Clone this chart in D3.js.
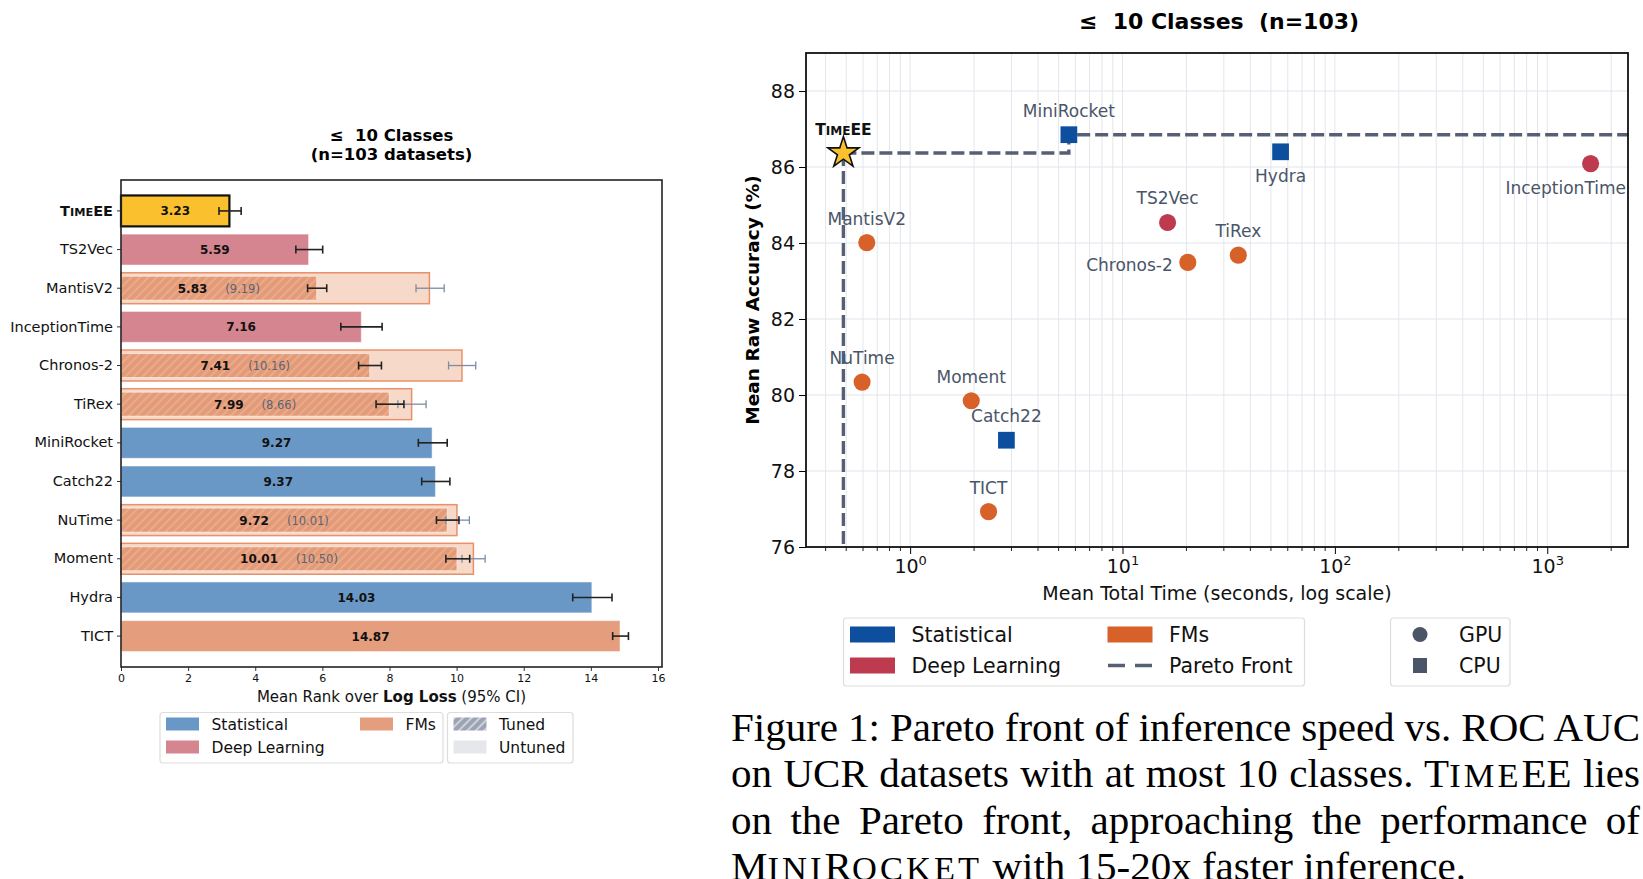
<!DOCTYPE html>
<html>
<head>
<meta charset="utf-8">
<script src="https://cdn.jsdelivr.net/npm/d3@7"></script>
<style>
	body { margin: 0; background: #fff; }
	#wrap { position: relative; width: 1643px; height: 879px; overflow: hidden; }
	#wrap svg { position: absolute; left: 0; top: 0; font-family: "DejaVu Sans", sans-serif; }
	#wrap svg text { white-space: pre; }
	.cap { position: absolute; left: 731px; width: 909px; font-family: "Liberation Serif", serif;
		font-size: 41px; line-height: 46.5px; color: #000; white-space: nowrap; }
	.sc { font-size: 0.84em; letter-spacing: 0.09em; }
</style>
</head>
<body>
<div id="wrap"></div>
<script>

// Left chart: mean rank over log loss
var models = ["TimeEE", "TS2Vec", "MantisV2", "InceptionTime", "Chronos-2", "TiRex", "MiniRocket", "Catch22", "NuTime", "Moment", "Hydra", "TICT"];
var families = ["Ours", "Deep Learning", "FMs", "Deep Learning", "FMs", "FMs", "Statistical", "Statistical", "FMs", "FMs", "Statistical", "FMs"];
var rankTuned = [3.23, 5.59, 5.83, 7.16, 7.41, 7.99, 9.27, 9.37, 9.72, 10.01, 14.03, 14.87];
var rankLow = [2.92, 5.21, 5.56, 6.55, 7.08, 7.60, 8.86, 8.96, 9.40, 9.68, 13.46, 14.65];
var rankHigh = [3.58, 6.01, 6.13, 7.78, 7.76, 8.43, 9.72, 9.80, 10.07, 10.39, 14.63, 15.12];
var rankUntuned = [null, null, 9.19, null, 10.16, 8.66, null, null, 10.01, 10.50, null, null];
var untunedLow = [null, null, 8.79, null, 9.76, 8.25, null, null, 9.68, 10.16, null, null];
var untunedHigh = [null, null, 9.63, null, 10.57, 9.09, null, null, 10.38, 10.85, null, null];
var rankTicks = [0, 2, 4, 6, 8, 10, 12, 14, 16];

// Right chart: accuracy vs time
var scatterModels = ["TimeEE", "MiniRocket", "Hydra", "InceptionTime", "TS2Vec", "TiRex", "Chronos-2", "MantisV2", "NuTime", "Moment", "Catch22", "TICT"];
var scatterGroups = ["Ours", "Statistical", "Statistical", "Deep Learning", "Deep Learning", "FMs", "FMs", "FMs", "FMs", "FMs", "Statistical", "FMs"];
var meanTime = [0.485, 5.59, 55.5, 1600, 16.3, 35.1, 20.3, 0.625, 0.594, 1.94, 2.84, 2.34];
var meanAcc = [86.37, 86.85, 86.40, 86.09, 84.54, 83.68, 83.49, 84.01, 80.34, 79.85, 78.81, 76.93];
var accTicks = [76, 78, 80, 82, 84, 86, 88];
var timeTicks = [1, 10, 100, 1000];

var width = 1643, height = 879;

var barColors = { "Ours": "#FBC02D", "Statistical": "#6A98C6", "Deep Learning": "#D4858F", "FMs": "#E49E7D" };
var dotColors = { "Ours": "#FBC02D", "Statistical": "#0D4F9E", "Deep Learning": "#BD3A4F", "FMs": "#D8612A" };

var svg = d3.select("#wrap").append("svg")
	.attr("width", width)
	.attr("height", height);

// "TimeEE" written in small caps (T + IME small + EE)
function timeeeLabel(sel) {
	sel.text(null);
	sel.append("tspan").text("T");
	sel.append("tspan").attr("font-size", "0.78em").text("IME");
	sel.append("tspan").text("EE");
}

// Hatch patterns
var defs = svg.append("defs");
function hatch(id, bg, fg) {
	var p = defs.append("pattern")
		.attr("id", id)
		.attr("patternUnits", "userSpaceOnUse")
		.attr("width", 6).attr("height", 6)
		.attr("patternTransform", "rotate(45)");
	p.append("rect").attr("width", 6).attr("height", 6).attr("fill", bg);
	p.append("line").attr("x1", 1).attr("y1", 0).attr("x2", 1).attr("y2", 6)
		.attr("stroke", fg).attr("stroke-width", 1.3);
}
hatch("hatchFM", "#E39A77", "#EEB597");
hatch("hatchGray", "#9CA3B4", "#E8EAEF");

// ---------------- Left chart ----------------
var L = { left: 121, right: 662, top: 180, bottom: 667 };

var xL = d3.scaleLinear()
	.domain([0, 16.12])
	.range([L.left, L.right]);

var yL = d3.scaleBand()
	.domain(models)
	.range([L.top, L.bottom])
	.paddingInner(0.2)
	.paddingOuter(0.4);

var left = svg.append("g");

var rows = models.map(function(m, i) {
	return { name: m, fam: families[i], tuned: rankTuned[i], lo: rankLow[i], hi: rankHigh[i],
		untuned: rankUntuned[i], ulo: untunedLow[i], uhi: untunedHigh[i] };
});

// Untuned background bars
left.selectAll(".untuned")
	.data(rows.filter(function(d){ return d.untuned != null; }))
	.enter().append("rect")
	.attr("x", xL(0))
	.attr("y", function(d){ return yL(d.name); })
	.attr("width", function(d){ return xL(d.untuned) - xL(0); })
	.attr("height", yL.bandwidth())
	.attr("fill", "#F6D9C8")
	.attr("stroke", "#E8916A")
	.attr("stroke-width", 1.5);

// Main bars
left.selectAll(".bar")
	.data(rows)
	.enter().append("rect")
	.attr("x", xL(0))
	.attr("y", function(d){ return d.untuned != null ? yL(d.name) + 3.5 : yL(d.name); })
	.attr("width", function(d){ return xL(d.tuned) - xL(0); })
	.attr("height", function(d){ return d.untuned != null ? yL.bandwidth() - 7 : yL.bandwidth(); })
	.attr("fill", function(d){ return d.untuned != null ? "url(#hatchFM)" : barColors[d.fam]; })
	.attr("stroke", function(d){ return d.fam == "Ours" ? "#111" : "#fff"; })
	.attr("stroke-opacity", function(d){ return d.fam == "Ours" ? 1 : 0.5; })
	.attr("stroke-width", function(d){ return d.fam == "Ours" ? 2.2 : 1; });

// Error bars
function errorBars(data, lo, hi, color, w) {
	var g = left.append("g").attr("stroke", color).attr("stroke-width", w);
	data.forEach(function(d) {
		var cy = yL(d.name) + yL.bandwidth() / 2;
		g.append("line").attr("x1", xL(d[lo])).attr("x2", xL(d[hi])).attr("y1", cy).attr("y2", cy);
		g.append("line").attr("x1", xL(d[lo])).attr("x2", xL(d[lo])).attr("y1", cy - 4).attr("y2", cy + 4);
		g.append("line").attr("x1", xL(d[hi])).attr("x2", xL(d[hi])).attr("y1", cy - 4).attr("y2", cy + 4);
	});
}
errorBars(rows.filter(function(d){ return d.untuned != null; }), "ulo", "uhi", "#7D8CA3", 1.3);
errorBars(rows, "lo", "hi", "#222", 1.6);

// Value labels
var vl = left.selectAll(".val")
	.data(rows)
	.enter().append("text")
	.attr("x", function(d){ return xL(d.tuned / 2); })
	.attr("y", function(d){ return yL(d.name) + yL.bandwidth() / 2 + 4.5; })
	.attr("text-anchor", "middle")
	.attr("font-size", "12px");
vl.append("tspan")
	.attr("font-weight", "bold")
	.attr("fill", "#111")
	.text(function(d){ return d.tuned.toFixed(2); });
vl.filter(function(d){ return d.untuned != null; })
	.append("tspan")
	.attr("dx", 18)
	.attr("fill", "#5B6475")
	.attr("font-size", "11.5px")
	.text(function(d){ return "(" + d.untuned.toFixed(2) + ")"; });

// Axes
var axL = left.append("g")
	.attr("transform", "translate(" + L.left + ",0)")
	.call(d3.axisLeft(yL).tickSize(4).tickPadding(4));
axL.select(".domain").remove();
axL.selectAll("line").attr("stroke", "#333");
axL.selectAll("text").attr("font-size", "14.5px").attr("fill", "#111")
	.attr("font-family", "DejaVu Sans");
axL.selectAll("text").filter(function(d){ return d == "TimeEE"; })
	.attr("font-weight", "bold")
	.attr("font-size", "14.5px")
	.call(timeeeLabel);

var axB = left.append("g")
	.attr("transform", "translate(0," + L.bottom + ")")
	.call(d3.axisBottom(xL).tickValues(rankTicks).tickSize(4).tickPadding(3));
axB.select(".domain").remove();
axB.selectAll("line").attr("stroke", "#333");
axB.selectAll("text").attr("font-size", "11px").attr("fill", "#111")
	.attr("font-family", "DejaVu Sans");

left.append("rect")
	.attr("x", L.left).attr("y", L.top)
	.attr("width", L.right - L.left).attr("height", L.bottom - L.top)
	.attr("fill", "none").attr("stroke", "#222").attr("stroke-width", 1.6);

// Title and x label
var lt = left.append("text")
	.attr("text-anchor", "middle")
	.attr("font-weight", "bold")
	.attr("font-size", "16.5px");
lt.append("tspan").attr("x", (L.left + L.right) / 2).attr("y", 141).text("≤  10 Classes");
lt.append("tspan").attr("x", (L.left + L.right) / 2).attr("y", 160).text("(n=103 datasets)");

var lx = left.append("text")
	.attr("x", (L.left + L.right) / 2)
	.attr("y", 702)
	.attr("text-anchor", "middle")
	.attr("font-size", "15px")
	.attr("fill", "#111");
lx.append("tspan").text("Mean Rank over ");
lx.append("tspan").attr("font-weight", "bold").text("Log Loss");
lx.append("tspan").text(" (95% CI)");

// Left legends
function legendBox(g, x, y, w, h) {
	g.append("rect").attr("x", x).attr("y", y).attr("width", w).attr("height", h)
		.attr("rx", 3).attr("fill", "#fff").attr("stroke", "#DDDDDD").attr("stroke-width", 1.2);
}
var lg = left.append("g");
legendBox(lg, 160, 712.5, 283, 50.5);
legendBox(lg, 447.5, 712.5, 125.5, 50.5);
var leftLegend = [
	{ label: "Statistical", fill: barColors["Statistical"], x: 166, y: 724 },
	{ label: "Deep Learning", fill: barColors["Deep Learning"], x: 166, y: 747 },
	{ label: "FMs", fill: barColors["FMs"], x: 360, y: 724 },
	{ label: "Tuned", fill: "url(#hatchGray)", x: 453.5, y: 724 },
	{ label: "Untuned", fill: "#E5E7EB", x: 453.5, y: 747 }
];
leftLegend.forEach(function(d) {
	lg.append("rect").attr("x", d.x).attr("y", d.y - 6.5).attr("width", 33).attr("height", 13).attr("fill", d.fill);
	lg.append("text").attr("x", d.x + 45.5).attr("y", d.y + 5.5).attr("font-size", "15.5px")
		.attr("fill", "#111").text(d.label);
});

// ---------------- Right chart ----------------
var R = { left: 806, right: 1628, top: 53, bottom: 547 };

var xR = d3.scaleLog()
	.domain([d3.min(meanTime) / 1.5, d3.max(meanTime) * 1.5])
	.range([R.left, R.right]);

var yR = d3.scaleLinear()
	.domain([76, 89])
	.range([R.bottom, R.top]);

var right = svg.append("g");

// Grid lines (major + minor on log axis)
var minorTicks = [];
d3.range(-1, 4).forEach(function(e) {
	d3.range(1, 10).forEach(function(m) {
		var v = m * Math.pow(10, e);
		if (v >= xR.domain()[0] && v <= xR.domain()[1]) minorTicks.push(v);
	});
});
right.append("g").selectAll("line")
	.data(minorTicks)
	.enter().append("line")
	.attr("x1", function(d){ return xR(d); }).attr("x2", function(d){ return xR(d); })
	.attr("y1", R.top).attr("y2", R.bottom)
	.attr("stroke", "#E4E6EC").attr("stroke-width", 1);
right.append("g").selectAll("line")
	.data(accTicks)
	.enter().append("line")
	.attr("x1", R.left).attr("x2", R.right)
	.attr("y1", function(d){ return yR(d); }).attr("y2", function(d){ return yR(d); })
	.attr("stroke", "#E4E6EC").attr("stroke-width", 1.2);

var pts = scatterModels.map(function(m, i) {
	return { name: m, group: scatterGroups[i], t: meanTime[i], acc: meanAcc[i] };
});

// Pareto front: faster models that beat every faster one
var front = [];
pts.slice().sort(function(a, b){ return a.t - b.t; }).forEach(function(p) {
	if (front.length == 0 || p.acc > front[front.length - 1].acc) front.push(p);
});
var frontPath = front.map(function(p){ return [p.t, p.acc]; });
frontPath.push([xR.domain()[1], front[front.length - 1].acc]);

var pareto = right.append("g")
	.attr("fill", "none")
	.attr("stroke", "#566074")
	.attr("stroke-width", 3.4)
	.attr("stroke-dasharray", "13,5");
pareto.append("path")
	.attr("d", d3.line().x(function(d){ return xR(d[0]); }).y(function(d){ return yR(d[1]); })
		.curve(d3.curveStepAfter)(frontPath));
pareto.append("line")
	.attr("x1", xR(front[0].t)).attr("x2", xR(front[0].t))
	.attr("y1", yR(front[0].acc)).attr("y2", R.bottom);

// Points
function shapeOf(d) {
	if (d.group == "Ours") return d3.symbol().type(d3.symbolStar).size(300)();
	if (d.group == "Statistical") return d3.symbol().type(d3.symbolSquare).size(280)();
	return d3.symbol().type(d3.symbolCircle).size(230)();
}
right.selectAll(".pt")
	.data(pts)
	.enter().append("path")
	.attr("transform", function(d){ return "translate(" + xR(d.t) + "," + yR(d.acc) + ")"; })
	.attr("d", shapeOf)
	.attr("fill", function(d){ return dotColors[d.group]; })
	.attr("stroke", function(d){ return d.group == "Ours" ? "#111" : "none"; })
	.attr("stroke-width", 1.6);

// Point labels
var place = { "Hydra": "below", "InceptionTime": "below", "Chronos-2": "left" };
right.selectAll(".lab")
	.data(pts)
	.enter().append("text")
	.attr("x", function(d){ return place[d.name] == "left" ? xR(d.t) - 15 : xR(d.t); })
	.attr("y", function(d){
		var p = place[d.name];
		if (p == "below") return yR(d.acc) + 30;
		if (p == "left") return yR(d.acc) + 8.5;
		return yR(d.acc) - 18;
	})
	.attr("text-anchor", function(d){ return place[d.name] == "left" ? "end" : "middle"; })
	.attr("font-size", function(d){ return d.group == "Ours" ? "15.5px" : "17px"; })
	.attr("font-weight", function(d){ return d.group == "Ours" ? "bold" : "normal"; })
	.attr("fill", function(d){ return d.group == "Ours" ? "#111" : "#4A5568"; })
	.text(function(d){ return d.name; })
	.each(function(d) {
		if (d.group == "Ours") d3.select(this).call(timeeeLabel);
		// keep labels inside the plot area
		var box = this.getBBox();
		if (box.x + box.width > R.right - 1) {
			d3.select(this).attr("text-anchor", "end").attr("x", R.right - 2);
		}
	});

// Axes
var ayR = right.append("g")
	.attr("transform", "translate(" + R.left + ",0)")
	.call(d3.axisLeft(yR).tickValues(accTicks).tickSize(7).tickPadding(4));
ayR.select(".domain").remove();
ayR.selectAll("text").attr("font-size", "19px").attr("fill", "#111").attr("font-family", "DejaVu Sans");

var axR = right.append("g")
	.attr("transform", "translate(0," + R.bottom + ")")
	.call(d3.axisBottom(xR).tickValues(timeTicks).tickSize(7).tickPadding(6).tickFormat(""));
axR.select(".domain").remove();
axR.selectAll(".tick text").each(function(d) {
	var t = d3.select(this).attr("font-size", "19px").attr("fill", "#111").attr("font-family", "DejaVu Sans");
	t.append("tspan").text("10");
	t.append("tspan").attr("font-size", "13px").attr("dy", -8).text(Math.round(Math.log10(d)));
});
right.append("g").selectAll("line")
	.data(minorTicks.filter(function(v){ return timeTicks.indexOf(v) < 0; }))
	.enter().append("line")
	.attr("x1", function(d){ return xR(d); }).attr("x2", function(d){ return xR(d); })
	.attr("y1", R.bottom).attr("y2", R.bottom + 4)
	.attr("stroke", "#222").attr("stroke-width", 1);

right.append("rect")
	.attr("x", R.left).attr("y", R.top)
	.attr("width", R.right - R.left).attr("height", R.bottom - R.top)
	.attr("fill", "none").attr("stroke", "#111").attr("stroke-width", 1.8);

// Titles
right.append("text")
	.attr("x", 1219).attr("y", 29)
	.attr("text-anchor", "middle")
	.attr("font-weight", "bold")
	.attr("font-size", "22px")
	.text("≤  10 Classes  (n=103)");

right.append("text")
	.attr("x", (R.left + R.right) / 2).attr("y", 600)
	.attr("text-anchor", "middle")
	.attr("font-size", "19px")
	.attr("fill", "#111")
	.text("Mean Total Time (seconds, log scale)");

right.append("text")
	.attr("transform", "translate(759," + (R.top + R.bottom) / 2 + ") rotate(-90)")
	.attr("text-anchor", "middle")
	.attr("font-weight", "bold")
	.attr("font-size", "18.5px")
	.text("Mean Raw Accuracy (%)");

// Right legends
var rg = right.append("g");
legendBox(rg, 843.5, 618, 461, 68);
legendBox(rg, 1390.5, 618, 119.5, 68);
var rightLegend = [
	{ label: "Statistical", fill: dotColors["Statistical"], x: 850, y: 634.5 },
	{ label: "Deep Learning", fill: dotColors["Deep Learning"], x: 850, y: 665.5 },
	{ label: "FMs", fill: dotColors["FMs"], x: 1107.5, y: 634.5 }
];
rightLegend.forEach(function(d) {
	rg.append("rect").attr("x", d.x).attr("y", d.y - 8).attr("width", 45).attr("height", 16).attr("fill", d.fill);
	rg.append("text").attr("x", d.x + 61.5).attr("y", d.y + 7.5).attr("font-size", "20.5px")
		.attr("fill", "#111").text(d.label);
});
rg.append("line")
	.attr("x1", 1108).attr("x2", 1152).attr("y1", 665.5).attr("y2", 665.5)
	.attr("stroke", "#566074").attr("stroke-width", 3.4).attr("stroke-dasharray", "17,10");
rg.append("text").attr("x", 1169).attr("y", 673).attr("font-size", "20.5px").attr("fill", "#111").text("Pareto Front");
rg.append("circle").attr("cx", 1420).attr("cy", 634.5).attr("r", 7.5).attr("fill", "#4A5568");
rg.append("rect").attr("x", 1413).attr("y", 658).attr("width", 14).attr("height", 15).attr("fill", "#4A5568");
rg.append("text").attr("x", 1459).attr("y", 642).attr("font-size", "20.5px").attr("fill", "#111").text("GPU");
rg.append("text").attr("x", 1459).attr("y", 673).attr("font-size", "20.5px").attr("fill", "#111").text("CPU");

// Caption (justified lines, last line left aligned)
var capLines = [
	'Figure 1: Pareto front of inference speed vs. ROC AUC',
	'on UCR datasets with at most 10 classes. T<span class="sc">IME</span>EE lies',
	'on the Pareto front, approaching the performance of',
	'M<span class="sc">INI</span>R<span class="sc">OCKET</span> with 15-20x faster inference.'
];
var capWidth = 909;
capLines.forEach(function(s, i) {
	var div = d3.select("#wrap").append("div")
		.attr("class", "cap")
		.style("top", (703.5 + i * 46.5) + "px");
	var span = div.append("span").html(s);
	if (i < capLines.length - 1) {
		var w = span.node().getBoundingClientRect().width;
		var n = span.node().textContent.split(" ").length - 1;
		div.style("word-spacing", ((capWidth - w) / n) + "px");
	}
});

</script>
</body>
</html>
